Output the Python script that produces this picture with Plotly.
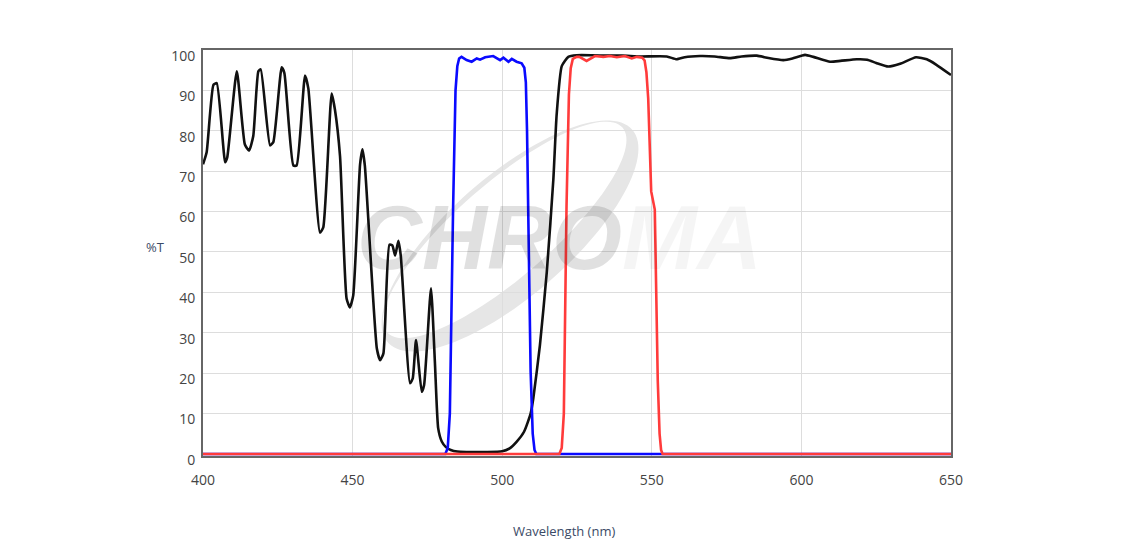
import numpy as np
import plotly.graph_objects as go

# ---- data ----
black_wl = [400, 401.2, 403.5, 404.6, 407.4, 408.1, 411.3, 414.0, 415.4, 416.8, 418.5, 419.3,
            422.4, 423.5, 426.3, 427.2, 430.2, 431.3, 434.1, 435.2, 439.1, 440.2, 443.0, 444.1,
            445.8, 448.0, 449.1, 450.2, 452.5, 453.3, 454.1, 458.1, 459.2, 460.3, 462.3, 463.3,
            464.2, 465.3, 466.1, 469.2, 470.1, 471.2, 473.1, 473.9, 476.2, 477.5, 478.6, 479.8,
            481.2, 482.8, 485.0, 488.0, 495.0, 500.0, 502.5, 504.8, 507.3, 509.5, 510.4, 512.6,
            514.9, 517.1, 518.2, 519.9, 522.1, 524.9, 530, 535, 540, 546.1, 555, 558.3, 561,
            566.1, 571, 576.1, 580, 585.1, 589, 594, 597, 601.2, 604, 609.6, 613, 618.5, 622,
            625, 629, 633, 638.3, 641.9, 645, 650]
black_t = [71.7, 74.6, 91.4, 91.8, 72.2, 73.4, 94.7, 76.6, 75.1, 78.7, 94.7, 95.2,
           76.4, 77.2, 95.7, 94.3, 71.4, 71.4, 93.7, 90.5, 54.8, 56.1, 89.2, 85.2,
           73.7, 38.4, 36.3, 39.2, 71.7, 75.4, 71.3, 26.1, 23.2, 24.9, 51.8, 51.6,
           49.1, 52.8, 49.1, 17.5, 18.7, 28.2, 15.4, 17.1, 41.0, 22.8, 6.4, 3.1,
           1.7, 1.0, 0.6, 0.5, 0.5, 0.7, 1.4, 3.0, 5.5, 10.0, 13.8, 26.9,
           45.0, 68.0, 84.0, 96.0, 98.3, 98.7, 98.7, 98.6, 98.6, 98.4, 98.4, 97.7, 98.2,
           98.5, 98.4, 98.0, 98.4, 98.6, 98.0, 97.5, 97.9, 98.8, 98.3, 97.1, 97.3, 97.7, 97.6,
           96.8, 95.9, 96.6, 98.2, 97.7, 96.4, 93.8]

blue_wl = [400, 481.0, 481.8, 482.5, 483.6, 484.4, 485.0, 485.6, 486.4, 488.1, 489.8, 491.5,
           492.6, 494.3, 497.0, 498.1, 499.3, 500.4, 502.1, 503.2, 504.8, 506.5, 507.4, 507.9,
           508.3, 508.8, 509.5, 510.2, 510.8, 511.4, 650]
blue_t = [0, 0, 1.5, 10, 61.4, 90.0, 96.0, 97.9, 98.3, 97.5, 97.1, 97.9,
          97.6, 98.2, 98.5, 98.1, 97.5, 98.1, 97.1, 97.8, 97.1, 96.7, 95.6, 92.0,
          80.0, 55.0, 20.4, 5.0, 1.0, 0, 0]

red_wl = [400, 519.1, 519.9, 520.6, 521.5, 522.3, 522.9, 523.6, 524.9, 525.8, 528.2, 529.3,
          531.0, 533.8, 536.0, 538.3, 541.0, 543.3, 545.0, 546.8, 547.6, 548.2, 548.8, 549.8,
          551.0, 552.0, 552.6, 553.1, 553.6, 650]
red_t = [0, 0, 1.5, 10, 61.4, 89.0, 95.5, 97.8, 98.3, 98.3, 97.3, 97.8,
         98.5, 98.3, 98.5, 98.2, 98.5, 97.9, 98.3, 98.1, 97.4, 94.5, 88.0, 65.0,
         60.5, 18.0, 5.0, 1.0, 0, 0]

x_ticks = [400, 450, 500, 550, 600, 650]
y_ticks = [0, 10, 20, 30, 40, 50, 60, 70, 80, 90, 100]

# ---- figure geometry ----
W, H = 1128, 558
OFF = 8  # page body margin
L, R, T, B = 203, 951, 50, 456


def to_paper(px, py):
    return (px - L) / (R - L), (B - py) / (B - T)


fig = go.Figure()
fig.add_trace(go.Scatter(x=black_wl, y=black_t, mode="lines", name="Filter 1",
                         line=dict(color="#111111", width=2.6, shape="spline", smoothing=0.5)))
fig.add_trace(go.Scatter(x=blue_wl, y=blue_t, mode="lines", name="Filter 2",
                         line=dict(color="#0a0aff", width=2.6)))
fig.add_trace(go.Scatter(x=red_wl, y=red_t, mode="lines", name="Filter 3",
                         line=dict(color="#ff3b3b", width=2.6)))

# ---- watermark swoosh (decoration) ----
cx, cy = 510, 236
th = np.deg2rad(41)
u = np.array([np.cos(th), -np.sin(th)])
v = np.array([np.sin(th), np.cos(th)])
t = np.linspace(0, 2 * np.pi, 120)


def ellipse_path(a, b, shift):
    pts = []
    for tt in t:
        p = np.array([cx, cy]) + a * np.cos(tt) * u + b * np.sin(tt) * v + shift * v
        pts.append(to_paper(p[0], p[1]))
    s = "M %.5f,%.5f " % pts[0] + " ".join("L %.5f,%.5f" % q for q in pts[1:]) + " Z"
    return s


swoosh = ellipse_path(162, 60, 0) + " " + ellipse_path(156, 47, -8)
fig.add_shape(type="path", path=swoosh, xref="paper", yref="paper",
              fillcolor="#e6e6e6", fillrule="evenodd", line=dict(width=0), layer="below")

x1, y1 = to_paper(489, 238)
x2, y2 = to_paper(692, 238)
fig.add_annotation(text="CHRO", xref="paper", yref="paper", x=x1, y=y1, showarrow=False,
                   xanchor="center", yanchor="middle",
                   font=dict(family="Liberation Sans", size=90, color="rgba(0,0,0,0.12)",
                             weight="bold", style="italic"))
fig.add_annotation(text="MA", xref="paper", yref="paper", x=x2, y=y2, showarrow=False,
                   xanchor="center", yanchor="middle",
                   font=dict(family="Liberation Sans", size=90, color="rgba(0,0,0,0.04)",
                             weight="bold", style="italic"))

# axis titles
tx, ty = to_paper(564, 531)
fig.add_annotation(text="Wavelength (nm)", xref="paper", yref="paper", x=tx, y=ty,
                   showarrow=False, xanchor="center", yanchor="middle",
                   font=dict(family="Open Sans", size=13, color="#3b4a66"))
yx, yy = to_paper(155, 247)
fig.add_annotation(text="%T", xref="paper", yref="paper", x=yx, y=yy,
                   showarrow=False, xanchor="center", yanchor="middle",
                   font=dict(family="Open Sans", size=13, color="#3b4a66"))

fig.update_layout(
    width=W, height=H,
    margin=dict(l=L - OFF, r=W - R + OFF, t=T - OFF, b=H - B + OFF, pad=0),
    paper_bgcolor="white", plot_bgcolor="white",
    showlegend=False,
    font=dict(family="Open Sans", size=14, color="#444444"),
    xaxis=dict(range=[400, 650], tickvals=x_ticks, ticktext=[str(v) for v in x_ticks],
               showgrid=True, gridcolor="#dddddd", gridwidth=1, zeroline=False,
               showline=True, linecolor="#666666", linewidth=2, mirror=True,
               ticks="", ticklabelstandoff=10, layer="below traces",
               tickfont=dict(size=14, color="#444444")),
    yaxis=dict(range=[-0.5, 100], tickvals=y_ticks, ticktext=[str(v) for v in y_ticks],
               showgrid=True, gridcolor="#dddddd", gridwidth=1, zeroline=False,
               showline=True, linecolor="#666666", linewidth=2, mirror=True,
               ticks="", ticklabelstandoff=3, ticklabelshift=6, layer="below traces",
               tickfont=dict(size=14, color="#444444")),
)

fig.write_html("out.html")
